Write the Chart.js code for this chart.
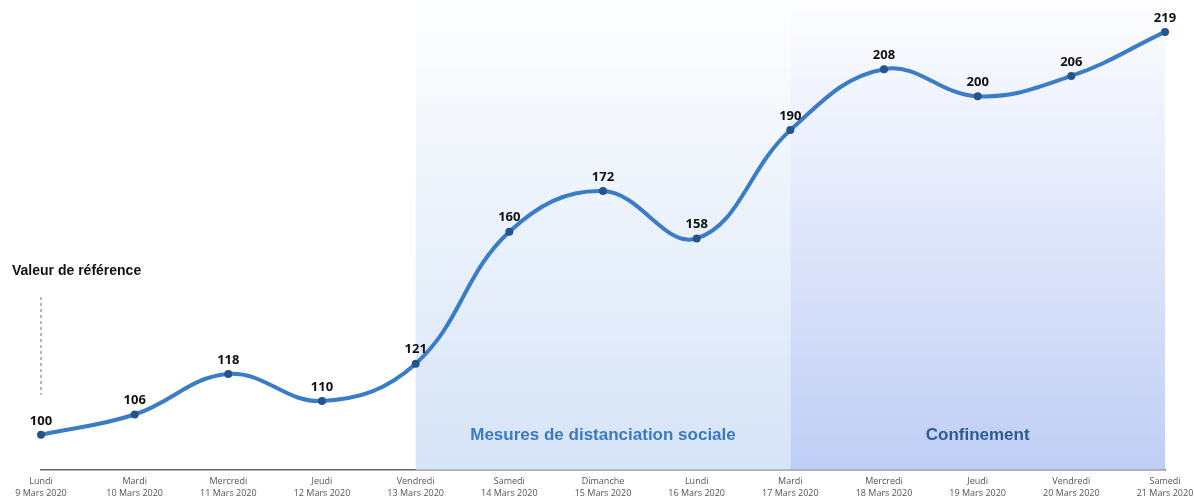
<!DOCTYPE html>
<html><head><meta charset="utf-8">
<script src="https://cdn.jsdelivr.net/npm/chart.js@4/dist/chart.umd.min.js"></script>
<style>html,body{margin:0;padding:0;background:#fff}#wrap{width:1194px;height:499px;position:relative}</style>
</head><body><div id="wrap"><canvas id="c" width="1194" height="499"></canvas></div>
<script>
const days = ["Lundi","Mardi","Mercredi","Jeudi","Vendredi","Samedi","Dimanche","Lundi","Mardi","Mercredi","Jeudi","Vendredi","Samedi"];
const dates = ["9 Mars 2020","10 Mars 2020","11 Mars 2020","12 Mars 2020","13 Mars 2020","14 Mars 2020","15 Mars 2020","16 Mars 2020","17 Mars 2020","18 Mars 2020","19 Mars 2020","20 Mars 2020","21 Mars 2020"];
const values = [100,106,118,110,121,160,172,158,190,208,200,206,219];
const periods = [
  {label:"Mesures de distanciation sociale", from:4, to:8},
  {label:"Confinement", from:8, to:12}
];
const refLabel = "Valeur de référence";

const labels = days.map((d,i)=>[d, dates[i]]);

const bgPlugin = {
  id:'bg',
  beforeDatasetsDraw(chart){
    const {ctx, chartArea, scales:{x}} = chart;
    const cols = [["rgba(214,228,247,0.03)","rgba(214,228,247,1)"],["rgba(192,206,245,0.03)","rgba(192,206,245,1)"]];
    const txtCols = ["#3b79c3","#2b5d92"];
    periods.forEach((p,i)=>{
      const x0 = x.getPixelForValue(p.from), x1 = x.getPixelForValue(p.to);
      const g = ctx.createLinearGradient(0, 0, 0, chartArea.bottom);
      g.addColorStop(0, cols[i][0]); g.addColorStop(1, cols[i][1]);
      ctx.save();
      ctx.fillStyle = g;
      ctx.fillRect(x0, 0, x1-x0, chartArea.bottom);
      ctx.fillStyle = txtCols[i];
      ctx.font = "bold 17px 'Liberation Sans', Arial, sans-serif";
      ctx.textAlign = "center"; ctx.textBaseline = "middle";
      ctx.fillText(p.label, (x0+x1)/2, 435);
      ctx.restore();
    });
    const rx = x.getPixelForValue(0);
    ctx.save();
    ctx.strokeStyle = "#888"; ctx.lineWidth = 1.2; ctx.setLineDash([3,3]);
    ctx.beginPath(); ctx.moveTo(rx, 297); ctx.lineTo(rx, 395); ctx.stroke();
    ctx.setLineDash([]);
    ctx.fillStyle = "#111";
    ctx.font = "bold 14px 'Liberation Sans', Arial, sans-serif";
    ctx.textAlign = "left"; ctx.textBaseline = "middle";
    ctx.fillText(refLabel, 12, 271);
    ctx.restore();
  },
  afterDatasetsDraw(chart){
    const {ctx} = chart;
    const meta = chart.getDatasetMeta(0);
    ctx.save();
    ctx.fillStyle = "#111";
    ctx.font = "bold 13px 'Open Sans', sans-serif";
    ctx.textAlign = "center"; ctx.textBaseline = "middle";
    meta.data.forEach((pt,i)=>{
      ctx.fillText(String(values[i]), pt.x, pt.y - 14);
    });
    ctx.restore();
  }
};

new Chart(document.getElementById('c'), {
  type:'line',
  data:{labels, datasets:[{
    data: values,
    borderColor:"#3a7cc6",
    borderWidth:4,
    tension:0.4,
    pointRadius:4,
    pointBackgroundColor:"#24548c",
    pointBorderColor:"#24548c",
    pointBorderWidth:0,
    clip:false
  }]},
  options:{
    responsive:false, animation:false,
    layout:{padding:{left:41, right:29, top:0, bottom:-7}},
    plugins:{legend:{display:false}, tooltip:{enabled:false}},
    scales:{
      y:{display:false, min:89.7, max:227.25},
      x:{
        offset:false,
        afterFit(s){ s.paddingLeft = 0; s.paddingRight = 0; },
        grid:{display:false, drawTicks:false},
        border:{display:true, color:"#666", width:1.5},
        ticks:{autoSkip:false, maxRotation:0, color:"#555", padding:6,
          font:{family:"'Open Sans', sans-serif", size:9, lineHeight:1.35}}
      }
    }
  },
  plugins:[bgPlugin]
});
</script></body></html>
